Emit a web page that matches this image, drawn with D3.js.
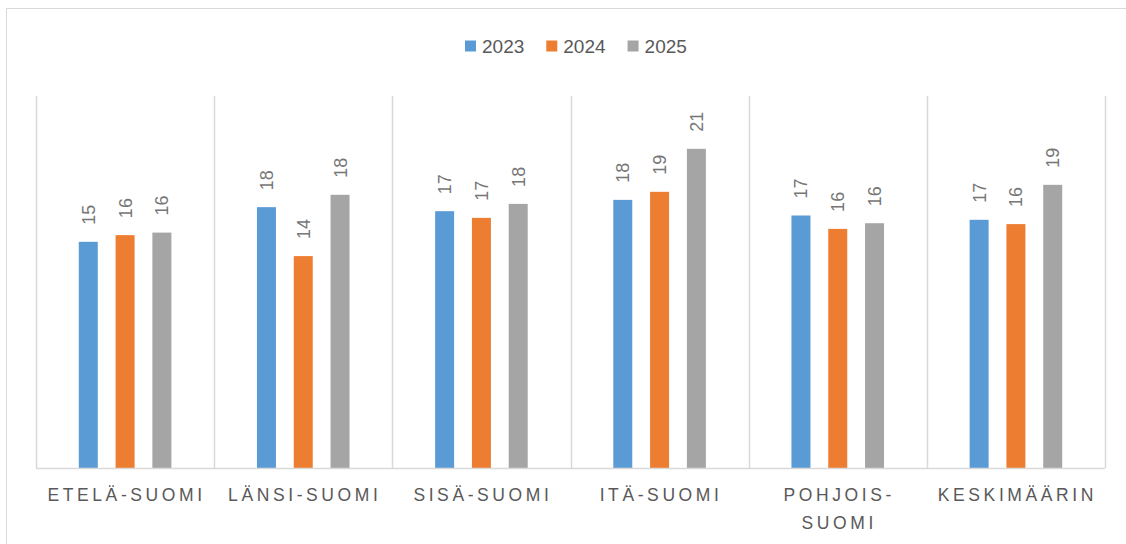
<!DOCTYPE html>
<html>
<head>
<meta charset="utf-8">
<script src="https://cdn.jsdelivr.net/npm/d3@7"></script>
<style>
  body { margin: 0; background: #fff; }
</style>
</head>
<body>
<div id="chart"></div>
<script>
// data
var regions = ["Etelä-Suomi", "Länsi-Suomi", "Sisä-Suomi", "Itä-Suomi", "Pohjois-Suomi", "Keskimäärin"];
var years = ["2023", "2024", "2025"];
var v2023 = [15.2, 17.53, 17.26, 18.02, 16.97, 16.68];
var v2024 = [15.65, 14.24, 16.81, 18.56, 16.07, 16.39];
var v2025 = [15.82, 18.36, 17.75, 21.45, 16.45, 19.03];
var colors = ["#5b9bd5", "#ed7d31", "#a5a5a5"];

var series = [v2023, v2024, v2025];
var data = regions.map(function (r, i) {
    return { region: r, values: years.map(function (y, j) { return { year: y, value: series[j][i] }; }) };
});

var W = 1126, H = 544;
var margin = { top: 96, right: 21, bottom: 76, left: 36 };
var width = W - margin.left - margin.right,
    height = H - margin.top - margin.bottom;

var svg = d3.select("#chart").append("svg")
    .attr("width", W)
    .attr("height", H);

// outer frame
svg.append("rect")
    .attr("x", 6.5).attr("y", 8.5)
    .attr("width", 1200).attr("height", 600)
    .attr("fill", "none")
    .attr("stroke", "#d9d9d9");

var g = svg.append("g")
    .attr("transform", "translate(" + margin.left + "," + margin.top + ")");

var x0 = d3.scaleBand().domain(regions).range([0, width]).padding(0);
var x1 = d3.scaleBand().domain(years).range([0, x0.bandwidth()])
    .paddingInner(0.484).paddingOuter(1.163);
var y = d3.scaleLinear().domain([0, 25]).range([height, 0]);

// vertical gridlines at category boundaries
var bounds = regions.map(function (r) { return x0(r); }).concat([width]);
g.selectAll(".vgrid")
    .data(bounds)
    .enter().append("line")
    .attr("class", "vgrid")
    .attr("x1", function (d) { return Math.round(d) + 0.5; })
    .attr("x2", function (d) { return Math.round(d) + 0.5; })
    .attr("y1", 0)
    .attr("y2", height)
    .attr("stroke", "#d9d9d9")
    .attr("stroke-width", 1.5);

// bars
var groups = g.selectAll(".grp")
    .data(data)
    .enter().append("g")
    .attr("class", "grp")
    .attr("transform", function (d) { return "translate(" + x0(d.region) + ",0)"; });

groups.selectAll("rect")
    .data(function (d) { return d.values; })
    .enter().append("rect")
    .attr("x", function (d) { return x1(d.year); })
    .attr("width", x1.bandwidth())
    .attr("y", function (d) { return y(d.value); })
    .attr("height", function (d) { return height - y(d.value); })
    .attr("fill", function (d, i) { return colors[i]; });

// data labels, rotated
var fmt = d3.format(".0f");
groups.selectAll(".lbl")
    .data(function (d) { return d.values; })
    .enter().append("text")
    .attr("class", "lbl")
    .attr("transform", function (d) {
        return "translate(" + (x1(d.year) + x1.bandwidth() / 2) + "," + (y(d.value) - 17) + ") rotate(-90)";
    })
    .attr("dy", "0.36em")
    .attr("text-anchor", "start")
    .style("font-family", "'Liberation Sans', Arial, sans-serif")
    .style("font-size", "18px")
    .attr("fill", "#767676")
    .text(function (d) { return fmt(d.value); });

// baseline
g.append("line")
    .attr("x1", 0).attr("x2", width)
    .attr("y1", height + 0.5).attr("y2", height + 0.5)
    .attr("stroke", "#d9d9d9")
    .attr("stroke-width", 1.5);

// category labels
var xAxis = g.append("g")
    .attr("transform", "translate(0," + height + ")");

xAxis.selectAll("text")
    .data(regions)
    .enter().append("text")
    .attr("x", function (d) { return x0(d) + x0.bandwidth() / 2 + 1.5; })
    .attr("y", 33)
    .attr("text-anchor", "middle")
    .style("font-family", "'Liberation Sans', Arial, sans-serif")
    .style("font-size", "17.5px")
    .style("letter-spacing", "3.6px")
    .attr("fill", "#595959")
    .each(function (d) {
        var t = d3.select(this);
        var label = d.toUpperCase();
        t.text(label);
        if (this.getComputedTextLength() > x0.bandwidth() - 4 && label.indexOf("-") > 0) {
            var k = label.indexOf("-") + 1;
            t.text(null);
            t.append("tspan").attr("x", t.attr("x")).text(label.slice(0, k));
            t.append("tspan").attr("x", t.attr("x")).attr("dy", 27.5).text(label.slice(k));
        }
    });

// legend
var legend = svg.append("g");
var lx = 465;
years.forEach(function (yr, i) {
    var item = legend.append("g").attr("transform", "translate(" + lx + ",0)");
    item.append("rect")
        .attr("x", 0).attr("y", 40.5)
        .attr("width", 11).attr("height", 11)
        .attr("fill", colors[i]);
    var t = item.append("text")
        .attr("x", 17).attr("y", 52.5)
        .style("font-family", "'Liberation Sans', Arial, sans-serif")
        .style("font-size", "19px")
        .attr("fill", "#595959")
        .text(yr);
    lx += 17 + t.node().getComputedTextLength() + 22;
});
</script>
</body>
</html>
